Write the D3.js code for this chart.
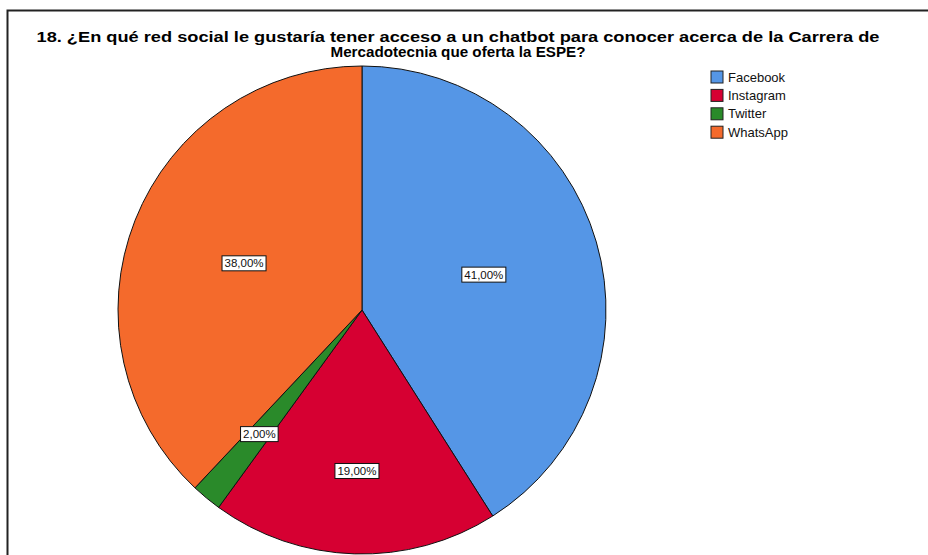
<!DOCTYPE html>
<html>
<head>
<meta charset="utf-8">
<script src="https://cdn.jsdelivr.net/npm/d3@7"></script>
<style>
  body { margin: 0; background: #fff; }
  svg { display: block; font-family: "Liberation Sans", Arial, sans-serif; }
</style>
</head>
<body>
<svg id="chart" width="928" height="555"></svg>
<script>
// datos del gráfico
var categorias = ["Facebook", "Instagram", "Twitter", "WhatsApp"];
var porcentajes = [41, 19, 2, 38];
var colores = ["#5596e6", "#d60032", "#2a8a2a", "#f46a2c"];
var titulo = [
    "18. ¿En qué red social le gustaría tener acceso a un chatbot para conocer acerca de la Carrera de",
    "Mercadotecnia que oferta la ESPE?"
];
var anchoTitulo = [843, 255]; // ancho de cada línea en el original

var svg = d3.select('#chart');

// marco
svg.append('rect')
    .attr('x', 7.5).attr('y', 10.5)
    .attr('width', 940).attr('height', 560)
    .attr('fill', 'none')
    .attr('stroke', '#222')
    .attr('stroke-width', 2);

// título
svg.append('g')
    .selectAll('text')
    .data(titulo)
    .join('text')
    .attr('x', 458)
    .attr('y', (d, i) => 42 + i * 15)
    .attr('text-anchor', 'middle')
    .attr('font-size', 14.5)
    .attr('font-weight', 'bold')
    .attr('fill', '#000')
    .attr('textLength', (d, i) => anchoTitulo[i])
    .attr('lengthAdjust', 'spacingAndGlyphs')
    .text(d => d);

const cx = 362, cy = 310, radio = 244;

var datos = categorias.map((c, i) => ({ nombre: c, valor: porcentajes[i] }));

const color = d3.scaleOrdinal().domain(categorias).range(colores);

const pie = d3.pie().sort(null).value(d => d.valor);
const arcos = pie(datos);

const arco = d3.arc().innerRadius(0).outerRadius(radio);

const g = svg.append('g').attr('transform', `translate(${cx},${cy})`);

g.selectAll('path')
    .data(arcos)
    .join('path')
    .attr('d', arco)
    .attr('fill', d => color(d.data.nombre))
    .attr('stroke', '#111')
    .attr('stroke-width', 1);

// etiquetas: las porciones grandes más cerca del centro
function posEtiqueta(d) {
    var f = (d.endAngle - d.startAngle) > Math.PI / 2 ? 0.52 : 0.66;
    var a = d3.arc().innerRadius(radio * f).outerRadius(radio * f);
    return a.centroid(d);
}

const etiquetas = g.selectAll('g.etiqueta')
    .data(arcos)
    .join('g')
    .attr('class', 'etiqueta')
    .attr('transform', d => 'translate(' + posEtiqueta(d) + ')');

etiquetas.append('text')
    .attr('text-anchor', 'middle')
    .attr('dy', '0.35em')
    .attr('font-size', 11.5)
    .attr('fill', '#111')
    .text(d => d3.format('.2f')(d.data.valor).replace('.', ',') + '%');

etiquetas.each(function () {
    var t = d3.select(this).select('text');
    var b = t.node().getBBox();
    d3.select(this).insert('rect', 'text')
        .attr('x', b.x - 2.5).attr('y', b.y - 1.5)
        .attr('width', b.width + 5).attr('height', b.height + 3)
        .attr('fill', '#fff')
        .attr('stroke', '#111')
        .attr('stroke-width', 1);
});

// leyenda
const leyenda = svg.append('g')
    .selectAll('g')
    .data(categorias)
    .join('g')
    .attr('transform', (d, i) => `translate(711,${71 + i * 18.4})`);

leyenda.append('rect')
    .attr('width', 12).attr('height', 12)
    .attr('fill', d => color(d))
    .attr('stroke', '#222')
    .attr('stroke-width', 1);

leyenda.append('text')
    .attr('x', 17)
    .attr('y', 6)
    .attr('dy', '0.35em')
    .attr('font-size', 13)
    .attr('fill', '#111')
    .text(d => d);
</script>
</body>
</html>
